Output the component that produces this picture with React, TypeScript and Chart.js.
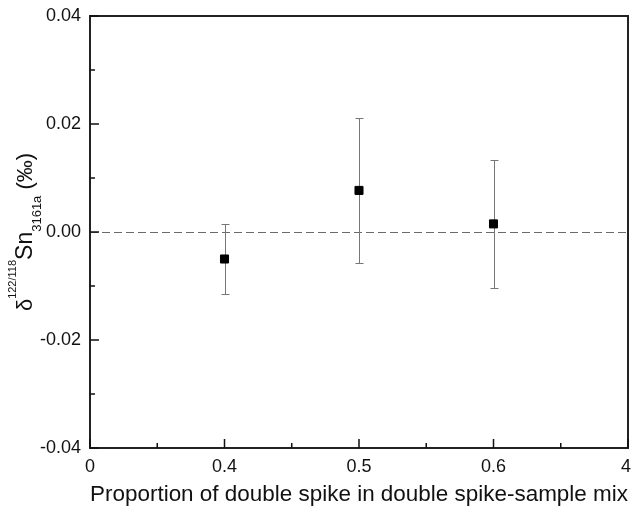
import React, { useEffect, useRef } from "react";
import { Chart, registerables } from "chart.js";

Chart.register(...registerables);

// ---- data ----
const xTickLabels = ["0", "0.4", "0.5", "0.6", "4"];
const categories = ["0.4", "0.5", "0.6"];
const deltaValues = [-0.005, 0.0077, 0.0015];
const errorValues = [0.0065, 0.0134, 0.0119];
const yTickValues = [-0.04, -0.02, 0, 0.02, 0.04];
const yMinorValues = [-0.03, -0.01, 0.01, 0.03];
const xMinorValues = [0.5, 1.5, 2.5, 3.5];
const xTitle = "Proportion of double spike in double spike-sample mix";

const FONT = "'Liberation Sans', Arial, sans-serif";

const overlayPlugin = {
  id: "overlay",
  beforeDatasetsDraw(chart: any) {
    const { ctx, chartArea } = chart;
    const xs = chart.scales.x;
    const ys = chart.scales.y;
    ctx.save();
    // zero reference line
    ctx.strokeStyle = "#6a6a6a";
    ctx.lineWidth = 1;
    ctx.setLineDash([8, 4]);
    const y0 = Math.round(ys.getPixelForValue(0)) + 0.5;
    ctx.beginPath();
    ctx.moveTo(chartArea.left, y0);
    ctx.lineTo(chartArea.right, y0);
    ctx.stroke();
    ctx.setLineDash([]);
    // error bars
    ctx.strokeStyle = "#777";
    ctx.lineWidth = 1;
    categories.forEach((c, i) => {
      const xv = xTickLabels.indexOf(c);
      const px = Math.round(xs.getPixelForValue(xv)) + 0.5;
      const top = Math.round(ys.getPixelForValue(deltaValues[i] + errorValues[i])) + 0.5;
      const bot = Math.round(ys.getPixelForValue(deltaValues[i] - errorValues[i])) + 0.5;
      ctx.beginPath();
      ctx.moveTo(px, top);
      ctx.lineTo(px, bot);
      ctx.moveTo(px - 4, top);
      ctx.lineTo(px + 4, top);
      ctx.moveTo(px - 4, bot);
      ctx.lineTo(px + 4, bot);
      ctx.stroke();
    });
    ctx.restore();
  },
  afterDraw(chart: any) {
    const { ctx, chartArea } = chart;
    const xs = chart.scales.x;
    const ys = chart.scales.y;
    const { left, right, top, bottom } = chartArea;
    ctx.save();
    // frame
    ctx.strokeStyle = "#222";
    ctx.lineWidth = 2;
    ctx.strokeRect(left, top, right - left, bottom - top);
    // ticks (inward)
    ctx.strokeStyle = "#111";
    ctx.lineWidth = 1.5;
    ctx.beginPath();
    yTickValues.forEach((v) => {
      const py = ys.getPixelForValue(v);
      ctx.moveTo(left, py);
      ctx.lineTo(left + 9, py);
    });
    yMinorValues.forEach((v) => {
      const py = ys.getPixelForValue(v);
      ctx.moveTo(left, py);
      ctx.lineTo(left + 5, py);
    });
    xTickLabels.forEach((_, i) => {
      const px = xs.getPixelForValue(i);
      ctx.moveTo(px, bottom);
      ctx.lineTo(px, bottom - 9);
    });
    xMinorValues.forEach((v) => {
      const px = xs.getPixelForValue(v);
      ctx.moveTo(px, bottom);
      ctx.lineTo(px, bottom - 5);
    });
    ctx.stroke();

    // x tick labels
    ctx.fillStyle = "#111";
    ctx.font = `18px ${FONT}`;
    ctx.textAlign = "center";
    ctx.textBaseline = "alphabetic";
    xTickLabels.forEach((lab, i) => {
      let px = xs.getPixelForValue(i);
      const w = ctx.measureText(lab).width;
      px = Math.min(px, chart.width - w / 2);
      ctx.fillText(lab, px, bottom + 24);
    });

    // y title with super/subscripts
    const pieces = [
      { t: "δ", size: 22, dy: 0 },
      { t: "122/118", size: 11, dy: -16 },
      { t: "Sn", size: 23, dy: 0 },
      { t: "3161a", size: 13, dy: 9 },
      { t: " (‰)", size: 22, dy: 0 },
    ];
    let total = 0;
    pieces.forEach((p) => {
      ctx.font = `${p.size}px ${FONT}`;
      total += ctx.measureText(p.t).width;
    });
    ctx.translate(32, 232);
    ctx.rotate(-Math.PI / 2);
    ctx.textAlign = "left";
    let x = -total / 2;
    pieces.forEach((p) => {
      ctx.font = `${p.size}px ${FONT}`;
      ctx.fillText(p.t, x, p.dy);
      x += ctx.measureText(p.t).width;
    });
    ctx.restore();
  },
};

export default function App() {
  const ref = useRef<HTMLCanvasElement | null>(null);
  useEffect(() => {
    document.body.style.margin = "0";
    const canvas = ref.current;
    if (!canvas) return;
    const points = categories.map((c, i) => ({
      x: xTickLabels.indexOf(c),
      y: deltaValues[i],
    }));
    const chart = new Chart(canvas, {
      type: "scatter",
      data: {
        datasets: [
          {
            data: points,
            pointStyle: "rect",
            pointRadius: 5.7,
            pointBorderWidth: 1,
            backgroundColor: "#000",
            borderColor: "#000",
          },
        ],
      },
      options: {
        animation: false,
        responsive: true,
        maintainAspectRatio: false,
        layout: { autoPadding: false, padding: { top: 16, right: 3, left: 0, bottom: 0 } },
        plugins: {
          legend: { display: false },
          tooltip: { enabled: false },
        },
        scales: {
          x: {
            type: "linear",
            min: 0,
            max: 4,
            grid: { display: false, drawTicks: false },
            border: { display: false },
            afterBuildTicks: (s: any) => {
              s.ticks = xTickLabels.map((_, i) => ({ value: i }));
            },
            afterFit: (s: any) => {
              s.height = 60;
              s.paddingLeft = 0;
              s.paddingRight = 0;
            },
            ticks: { display: false },
            title: {
              display: true,
              text: xTitle,
              color: "#111",
              font: { family: FONT, size: 22.5 },
              padding: { top: 0, bottom: 0 },
            },
          },
          y: {
            type: "linear",
            min: -0.04,
            max: 0.04,
            grid: { display: false, drawTicks: false },
            border: { display: false },
            afterBuildTicks: (s: any) => {
              s.ticks = yTickValues.map((v) => ({ value: v }));
            },
            afterFit: (s: any) => {
              s.width = 90;
              s.paddingTop = 0;
              s.paddingBottom = 0;
            },
            ticks: {
              padding: 9,
              color: "#111",
              font: { family: FONT, size: 18 },
              callback: (v: any) => Number(v).toFixed(2),
            },
          },
        },
      },
      plugins: [overlayPlugin],
    });
    return () => chart.destroy();
  }, []);
  return (
    <div style={{ position: "fixed", left: 0, top: 0, width: 631, height: 508, background: "#fff" }}>
      <canvas ref={ref} />
    </div>
  );
}
